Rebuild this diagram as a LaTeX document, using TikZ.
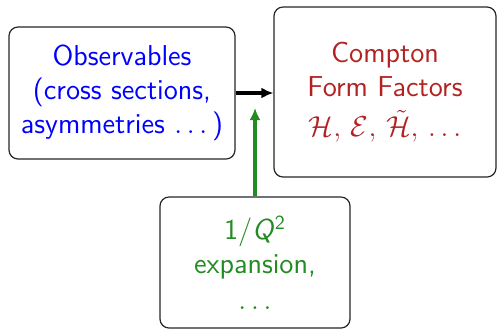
\documentclass[tikz,border=0pt]{standalone}
\usetikzlibrary{arrows.meta}
\definecolor{obsblue}{RGB}{0,0,255}
\definecolor{cffred}{RGB}{178,34,34}
\definecolor{expgreen}{RGB}{34,139,34}
\begin{document}
\begin{tikzpicture}[x=0.5pt,y=-0.5pt,
  box/.style={draw=black!85, line width=0.6pt, rounded corners=4.5pt, fill=white,
    inner sep=0pt, align=center, font=\sffamily\fontsize{14.4}{17}\selectfont},
  conn/.style={line width=1.6pt, -{Latex[length=6pt,width=5.5pt]}}]
\useasboundingbox (0,0) rectangle (497,329);
\node[box, text=obsblue, minimum width=113pt, minimum height=66pt] (obs) at (122,93)
  {Observables\\(cross sections,\\asymmetries $\ldots\,$)};
\node[box, text=cffred, minimum width=111pt, minimum height=85pt] (cff) at (385,92)
  {Compton\\Form Factors\\[3pt]$\mathcal{H},\,\mathcal{E},\,\tilde{\mathcal{H}},\,\ldots$};
\node[box, text=expgreen, minimum width=95pt, minimum height=65.5pt] (exp) at (255,262.5)
  {1/\textsl{Q}\textsuperscript{2}\\expansion,\\[1pt]$\ldots$};
\coordinate (gtip) at (255,108);
\draw[conn, black] (obs.east) -- (obs.east -| cff.west);
\draw[conn, expgreen] (exp.north) -- (gtip);
\end{tikzpicture}
\end{document}
